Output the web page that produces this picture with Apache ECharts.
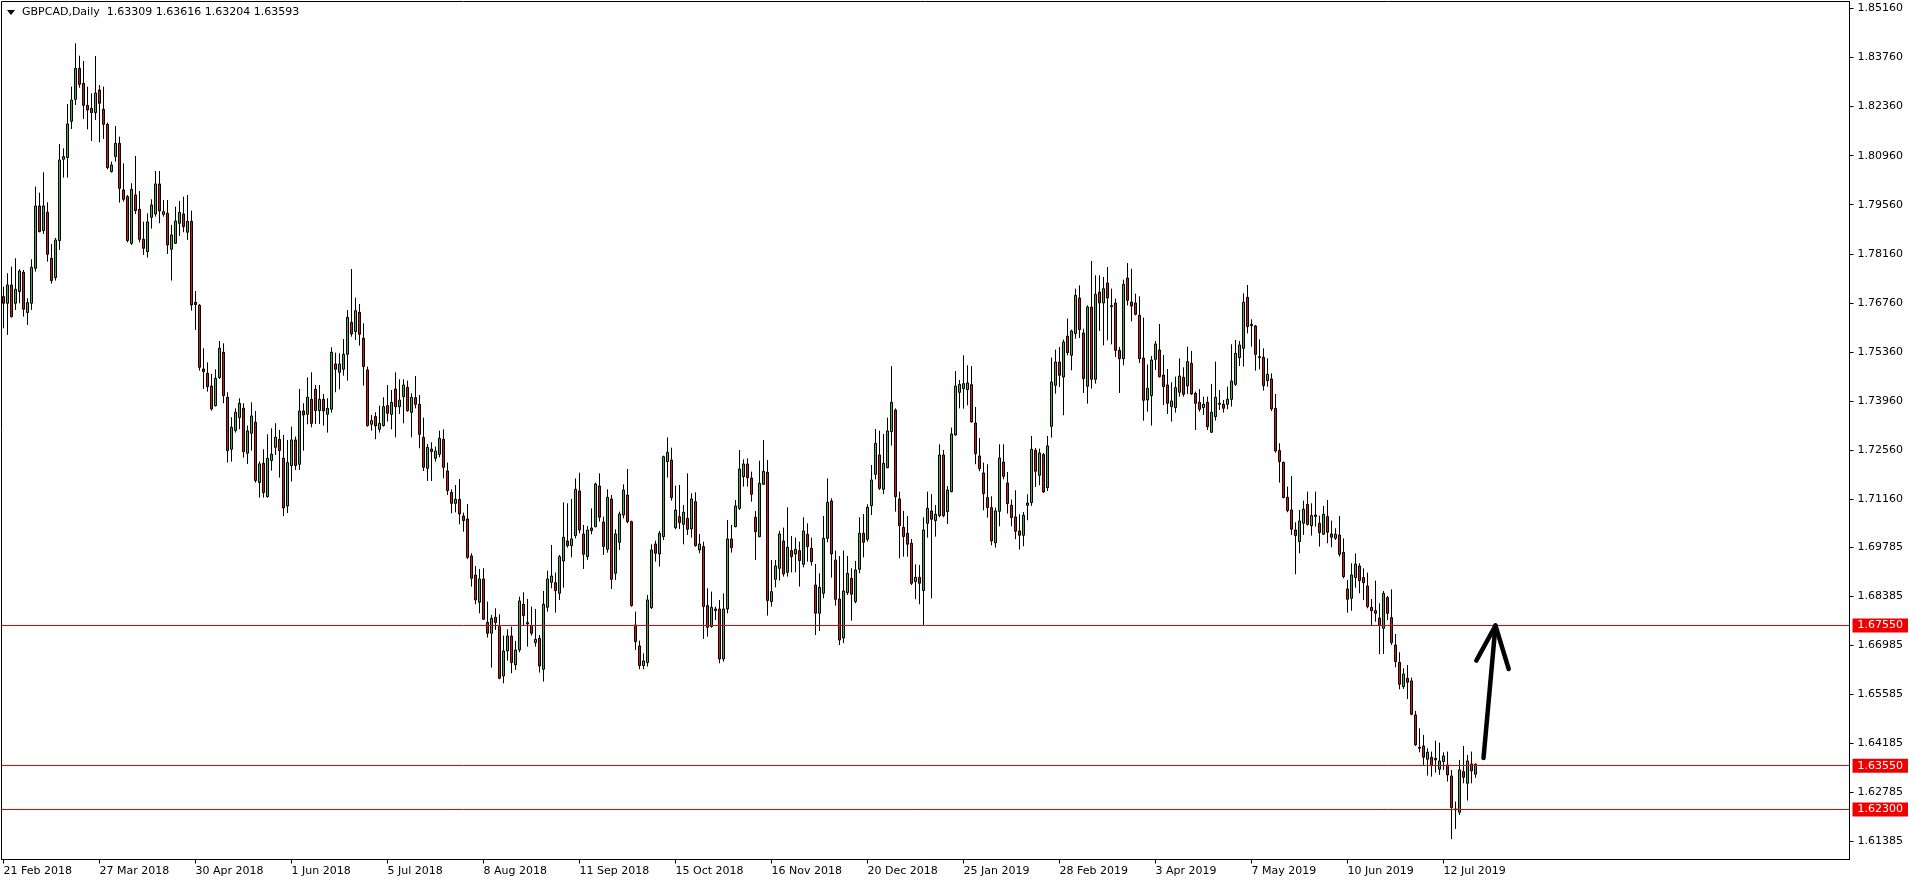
<!DOCTYPE html>
<html><head><meta charset="utf-8">
<script src="https://cdn.jsdelivr.net/npm/echarts@6/dist/echarts.min.js"></script>
<style>html,body{margin:0;padding:0;background:#fff;}#c{width:1916px;height:884px;}</style>
</head><body><div id="c"></div>
<script>
const symbolName = 'GBPCAD,Daily';
const tickLabels = ['21 Feb 2018','27 Mar 2018','30 Apr 2018','1 Jun 2018','5 Jul 2018','8 Aug 2018','11 Sep 2018','15 Oct 2018','16 Nov 2018','20 Dec 2018','25 Jan 2019','28 Feb 2019','3 Apr 2019','7 May 2019','10 Jun 2019','12 Jul 2019'];
const barsPerLabel = 24;
const totalSlots = 462;
const priceTicks = [1.85160,1.83760,1.82360,1.80960,1.79560,1.78160,1.76760,1.75360,1.73960,1.72560,1.71160,1.69785,1.68385,1.66985,1.65585,1.64185,1.62785,1.61385];
const levels = [1.67550, 1.63550, 1.62300];
const yMin = 1.60874, yMax = 1.85360;
const arrowShaft = [[370.0, 1.6377], [373.0, 1.6755]];
const arrowHead = [[368.2, 1.6655], [373.0, 1.6755], [376.3, 1.6631]];

const opens = [
1.76938,1.76748,1.77271,1.76748,1.77081,1.77633,1.76482,1.76748,1.77747,1.79525,
1.78822,1.79344,1.78032,1.77481,1.78536,1.80856,1.80904,1.81941,1.82568,1.83453,
1.83025,1.82397,1.82311,1.82188,1.82834,1.82283,1.81855,1.80505,1.80933,1.81313,
1.79982,1.79791,1.78460,1.79839,1.79430,1.78574,1.78222,1.79202,1.79297,1.80153,
1.79287,1.79316,1.78289,1.78460,1.79031,1.79297,1.78774,1.79088,1.76775,1.76690,
1.74873,1.74750,1.74388,1.73827,1.74626,1.75349,1.74065,1.72581,1.73114,1.73485,
1.73751,1.72467,1.73038,1.73352,1.71630,1.72182,1.71231,1.72258,1.72638,1.72867,
1.72325,1.70962,1.72115,1.72848,1.72153,1.73675,1.73580,1.74008,1.74293,1.73684,
1.74008,1.73580,1.73723,1.75016,1.74778,1.74864,1.75292,1.76205,1.75938,1.76490,
1.75748,1.74845,1.73295,1.73513,1.73152,1.73257,1.73827,1.73578,1.74301,1.73797,
1.74082,1.74349,1.73635,1.74054,1.73864,1.72922,1.72038,1.72589,1.72323,1.72437,
1.72865,1.71962,1.71353,1.71039,1.71153,1.70678,1.70592,1.69537,1.68994,1.68215,
1.68880,1.67644,1.67330,1.67787,1.67520,1.66113,1.66826,1.67254,1.66427,1.66855,
1.68158,1.67635,1.67549,1.67064,1.67188,1.66303,1.68072,1.68785,1.68776,1.68471,
1.69394,1.69964,1.69831,1.70117,1.71391,1.70164,1.69517,1.70335,1.70373,1.71534,
1.70507,1.69727,1.71163,1.69042,1.69926,1.70706,1.71277,1.70516,1.67568,1.66969,
1.66408,1.66493,1.68062,1.69879,1.69594,1.70088,1.72228,1.72275,1.70345,1.70659,
1.70440,1.70611,1.70307,1.71087,1.69708,1.69803,1.68120,1.67520,1.68024,1.68024,
1.66598,1.68024,1.70022,1.70373,1.70896,1.71800,1.72161,1.71762,1.70640,1.70088,
1.71581,1.71923,1.68234,1.68871,1.69185,1.69964,1.69070,1.69689,1.69594,1.69689,
1.69299,1.70155,1.69755,1.68709,1.67901,1.68471,1.70040,1.71106,1.69422,1.68310,
1.67195,1.68490,1.68899,1.68234,1.69156,1.70183,1.70012,1.70972,1.71866,1.72418,
1.71438,1.72057,1.73084,1.73702,1.71163,1.70354,1.70183,1.69898,1.68804,1.68928,
1.68547,1.70468,1.70820,1.70545,1.70687,1.72418,1.70801,1.71372,1.72989,1.74206,
1.74312,1.74283,1.74426,1.73332,1.72391,1.71906,1.71202,1.70916,1.69908,1.70812,
1.72219,1.71620,1.70983,1.70650,1.70251,1.70127,1.70983,1.71059,1.72552,1.71839,
1.72429,1.71487,1.73237,1.74407,1.75072,1.74644,1.75805,1.75263,1.75881,1.76898,
1.75900,1.74378,1.76641,1.74578,1.77069,1.76756,1.77326,1.76680,1.76756,1.75405,
1.75167,1.77469,1.76784,1.76756,1.76404,1.75186,1.73988,1.74112,1.75149,1.75415,
1.74702,1.74416,1.73798,1.73770,1.74207,1.74635,1.74388,1.75034,1.74179,1.73922,
1.73770,1.73922,1.73066,1.73513,1.73893,1.73865,1.73865,1.74007,1.74435,1.75196,
1.75462,1.76917,1.76147,1.76100,1.75225,1.75206,1.74540,1.74588,1.73751,1.72543,
1.72210,1.71211,1.70850,1.70279,1.69947,1.70470,1.71012,1.70403,1.70707,1.70470,
1.70156,1.70660,1.70165,1.70042,1.70135,1.69641,1.68595,1.68328,1.68918,1.69251,
1.68918,1.68680,1.68071,1.67976,1.67767,1.67472,1.68347,1.67777,1.66997,1.66502,
1.65808,1.66046,1.65970,1.65000,1.64077,1.64115,1.63735,1.63792,1.63763,1.63450,
1.63668,1.63573,1.63259,1.62318,1.62223,1.63383,1.63050,1.63602,1.63309];

const highs = [
1.77224,1.77604,1.77794,1.78032,1.77718,1.77699,1.76891,1.78004,1.80077,1.79905,
1.80486,1.79630,1.78441,1.78612,1.81294,1.81170,1.82435,1.82930,1.84166,1.83814,
1.83662,1.82930,1.82739,1.83805,1.82977,1.82930,1.81903,1.80790,1.81808,1.81503,
1.80742,1.79839,1.80172,1.80952,1.79953,1.79078,1.79316,1.79715,1.80524,1.80524,
1.79696,1.79696,1.78983,1.79506,1.79668,1.79791,1.79839,1.79392,1.77099,1.76728,
1.75463,1.75063,1.74731,1.74864,1.75672,1.75605,1.74208,1.73494,1.73751,1.74036,
1.73894,1.73257,1.73922,1.73675,1.72229,1.72581,1.73009,1.73180,1.73323,1.73133,
1.72990,1.72848,1.73228,1.72943,1.74303,1.73894,1.74635,1.74778,1.74417,1.74417,
1.74160,1.74036,1.75491,1.75339,1.75320,1.75729,1.76556,1.77726,1.76908,1.76728,
1.76176,1.74940,1.73561,1.73637,1.73827,1.74065,1.74417,1.74272,1.74777,1.74577,
1.74577,1.74539,1.74177,1.74672,1.74130,1.73483,1.72732,1.72779,1.72656,1.73112,
1.73150,1.72199,1.71439,1.71562,1.71733,1.70773,1.71020,1.69613,1.69251,1.69166,
1.69185,1.68234,1.67853,1.68043,1.67872,1.67264,1.67444,1.67520,1.67111,1.68376,
1.68500,1.68310,1.68091,1.68024,1.67283,1.68538,1.69118,1.69850,1.69061,1.69565,
1.71068,1.71039,1.71163,1.71752,1.71914,1.70421,1.70392,1.70896,1.71629,1.71895,
1.70659,1.71439,1.71277,1.70297,1.70801,1.71581,1.72019,1.70545,1.67948,1.67121,
1.66760,1.68424,1.69869,1.69974,1.70250,1.72399,1.72920,1.72627,1.71543,1.71562,
1.70992,1.71895,1.71324,1.71353,1.70164,1.69945,1.68614,1.68519,1.68091,1.68281,
1.68471,1.70564,1.70421,1.71134,1.72561,1.72294,1.72323,1.71943,1.70820,1.72256,
1.72846,1.72275,1.69422,1.69422,1.70250,1.70345,1.70925,1.70107,1.70060,1.69945,
1.70640,1.70468,1.70060,1.69308,1.69042,1.70678,1.71752,1.71182,1.69689,1.69536,
1.69689,1.69536,1.69185,1.69394,1.70640,1.70735,1.71011,1.72133,1.73160,1.73112,
1.73017,1.73483,1.74957,1.73749,1.71372,1.70820,1.70678,1.70021,1.69299,1.69280,
1.70640,1.71372,1.71305,1.70991,1.72722,1.72561,1.71534,1.73198,1.74815,1.74558,
1.75263,1.74977,1.74958,1.73788,1.72904,1.72200,1.72153,1.71240,1.70916,1.72723,
1.72723,1.71934,1.71145,1.71411,1.70726,1.70793,1.71297,1.72961,1.72619,1.72600,
1.72476,1.72961,1.75196,1.75424,1.75500,1.75710,1.76309,1.75995,1.77165,1.77260,
1.76023,1.76689,1.77954,1.77545,1.77545,1.77497,1.77783,1.77165,1.76879,1.75500,
1.77421,1.77897,1.77735,1.77022,1.76946,1.76337,1.75000,1.75244,1.75672,1.76157,
1.75272,1.74873,1.74492,1.74654,1.75177,1.74920,1.75510,1.75386,1.74226,1.74302,
1.74083,1.74083,1.74445,1.75082,1.74274,1.73988,1.74369,1.75577,1.75700,1.75672,
1.77032,1.77269,1.76290,1.76128,1.75719,1.75462,1.75177,1.74749,1.74160,1.72752,
1.72229,1.71516,1.71820,1.70498,1.70850,1.71116,1.71373,1.71040,1.71373,1.70688,
1.70964,1.71135,1.70546,1.70327,1.70677,1.70040,1.68851,1.69327,1.69612,1.69327,
1.69184,1.69061,1.68309,1.68832,1.68186,1.68537,1.68395,1.68585,1.67311,1.66788,
1.66331,1.66426,1.66065,1.65114,1.64619,1.64429,1.64049,1.63954,1.64267,1.64210,
1.63935,1.63954,1.63431,1.62527,1.63716,1.64115,1.63859,1.63954,1.63616];

const lows = [
1.76035,1.75845,1.76340,1.76558,1.76748,1.76368,1.76130,1.76558,1.77652,1.78774,
1.78726,1.77937,1.77309,1.77395,1.78270,1.80334,1.80334,1.81722,1.82407,1.82901,
1.82007,1.81712,1.81380,1.81979,1.81342,1.81437,1.80571,1.80480,1.80790,1.79620,
1.79649,1.78489,1.78412,1.79297,1.78489,1.78127,1.78051,1.78879,1.79221,1.79031,
1.79221,1.78156,1.77395,1.78441,1.78669,1.78774,1.78555,1.76539,1.75986,1.74826,
1.74303,1.74227,1.73684,1.73800,1.74588,1.73894,1.72201,1.72229,1.73057,1.73152,
1.72344,1.72163,1.72543,1.71630,1.71202,1.71202,1.71200,1.71973,1.72420,1.71773,
1.70677,1.70762,1.71659,1.71992,1.71992,1.72543,1.73295,1.73209,1.73304,1.73304,
1.73257,1.73057,1.73627,1.74208,1.74293,1.74683,1.74540,1.75796,1.75701,1.75539,
1.74398,1.73228,1.73114,1.72867,1.73057,1.73228,1.73371,1.73150,1.72922,1.73588,
1.73321,1.73654,1.72922,1.73749,1.72608,1.71962,1.71676,1.71676,1.72228,1.72351,
1.71752,1.71277,1.70754,1.70782,1.70440,1.70231,1.69451,1.68662,1.68158,1.67901,
1.67711,1.67207,1.66351,1.67425,1.66018,1.65904,1.66550,1.66189,1.66284,1.66788,
1.67568,1.66950,1.67264,1.66950,1.66208,1.65951,1.67948,1.68614,1.67920,1.68281,
1.68633,1.69774,1.69498,1.70041,1.70183,1.69166,1.69422,1.70155,1.70354,1.70516,
1.69565,1.69632,1.68595,1.68852,1.69708,1.70611,1.70468,1.68091,1.66855,1.66303,
1.66303,1.66379,1.68024,1.69375,1.69232,1.69993,1.71771,1.71115,1.70297,1.70307,
1.69869,1.70136,1.70060,1.69803,1.69613,1.67169,1.67235,1.67492,1.67711,1.66474,
1.66522,1.67901,1.69632,1.70354,1.70849,1.71515,1.71515,1.71087,1.69422,1.70069,
1.71562,1.67834,1.68091,1.68643,1.68833,1.68947,1.68947,1.69070,1.69070,1.68662,
1.69213,1.69375,1.69261,1.67283,1.67397,1.68329,1.69926,1.68918,1.68119,1.66995,
1.67052,1.68424,1.67692,1.68186,1.69042,1.69498,1.69945,1.70706,1.71724,1.71419,
1.71305,1.72038,1.72684,1.70801,1.69470,1.69517,1.69517,1.68709,1.68300,1.68158,
1.67568,1.70060,1.68329,1.70088,1.70640,1.70640,1.70449,1.71353,1.72970,1.73749,
1.73741,1.73836,1.73342,1.72153,1.71953,1.70840,1.70631,1.69842,1.69775,1.70384,
1.71725,1.70745,1.70384,1.70013,1.69718,1.69813,1.70555,1.70964,1.71506,1.71554,
1.71335,1.71392,1.72914,1.74169,1.74359,1.73551,1.75263,1.74835,1.75738,1.75757,
1.74188,1.73884,1.74312,1.74454,1.75957,1.75548,1.75690,1.75576,1.75215,1.74188,
1.74977,1.76689,1.76233,1.76404,1.75044,1.73399,1.73656,1.73256,1.74844,1.74626,
1.73846,1.73589,1.73370,1.73627,1.74083,1.74083,1.74160,1.74131,1.73132,1.73656,
1.73560,1.73132,1.73056,1.73399,1.73703,1.73627,1.73722,1.73798,1.74388,1.74958,
1.74939,1.75890,1.75510,1.74825,1.74863,1.74255,1.74369,1.73675,1.72486,1.71630,
1.71183,1.70784,1.70137,1.69015,1.69614,1.70137,1.70403,1.70118,1.70375,1.69804,
1.70137,1.69899,1.69785,1.69994,1.69517,1.68899,1.67919,1.67976,1.68633,1.68471,
1.68281,1.68043,1.67567,1.67663,1.66731,1.66740,1.67710,1.66997,1.66360,1.65732,
1.65742,1.65456,1.64990,1.64115,1.63935,1.63545,1.63269,1.63240,1.63355,1.63288,
1.63431,1.63098,1.61453,1.61747,1.62147,1.63050,1.62556,1.63050,1.63204];

const closes = [
1.76748,1.77271,1.76368,1.77148,1.77671,1.76577,1.76767,1.77775,1.79525,1.78793,
1.79525,1.78146,1.77395,1.78555,1.80837,1.80933,1.81865,1.82549,1.83453,1.82996,
1.82397,1.82264,1.82188,1.82749,1.82454,1.81855,1.80619,1.80695,1.81313,1.80029,
1.79715,1.78536,1.80001,1.79392,1.78574,1.78317,1.79069,1.79554,1.80153,1.79382,
1.79363,1.78412,1.78698,1.79097,1.79344,1.78936,1.79088,1.76701,1.76709,1.74921,
1.74797,1.74369,1.73732,1.74607,1.75463,1.74112,1.72543,1.73209,1.73637,1.73894,
1.72515,1.73104,1.73532,1.71687,1.72163,1.71345,1.72325,1.72439,1.72924,1.72543,
1.70905,1.72201,1.72848,1.72115,1.73675,1.73561,1.74065,1.73323,1.73684,1.74008,
1.73675,1.73751,1.75349,1.74864,1.75016,1.75292,1.76347,1.75872,1.76537,1.75862,
1.74940,1.73257,1.73399,1.73247,1.73323,1.73799,1.73608,1.73921,1.73797,1.73987,
1.74415,1.73683,1.74063,1.73864,1.73008,1.72066,1.72637,1.72513,1.72532,1.72894,
1.72066,1.71400,1.71039,1.71153,1.70735,1.70545,1.69498,1.68899,1.68281,1.68880,
1.67730,1.67330,1.67758,1.67635,1.66046,1.66826,1.67254,1.66493,1.66855,1.68253,
1.67834,1.67596,1.67330,1.67159,1.66398,1.68158,1.68880,1.68966,1.68547,1.69517,
1.70069,1.69831,1.70022,1.71439,1.70278,1.69584,1.70278,1.70259,1.71591,1.70640,
1.69803,1.71210,1.68871,1.70164,1.70735,1.71419,1.70516,1.68120,1.67092,1.66408,
1.66541,1.68281,1.69708,1.69613,1.70183,1.72370,1.72494,1.71201,1.70849,1.70488,
1.70782,1.70297,1.71163,1.69831,1.69879,1.68091,1.67501,1.68072,1.67977,1.66598,
1.68024,1.70022,1.69774,1.70963,1.72019,1.72161,1.71771,1.71296,1.70231,1.71610,
1.71952,1.68262,1.68519,1.69251,1.70164,1.69023,1.69784,1.69517,1.69727,1.69403,
1.70250,1.69803,1.69375,1.67901,1.68643,1.70040,1.71068,1.69594,1.68300,1.67138,
1.68538,1.69042,1.68443,1.69137,1.70183,1.69926,1.70925,1.71705,1.72751,1.71467,
1.72180,1.73103,1.73921,1.71229,1.70402,1.70088,1.69869,1.68757,1.68928,1.68757,
1.70278,1.70896,1.70583,1.70725,1.72418,1.70687,1.71419,1.73017,1.74387,1.74434,
1.74454,1.74473,1.73361,1.72457,1.72029,1.71316,1.70916,1.69965,1.70821,1.72333,
1.71810,1.71031,1.70631,1.70241,1.70127,1.70698,1.71050,1.72581,1.71953,1.72476,
1.71363,1.72676,1.74502,1.75072,1.74692,1.75643,1.75339,1.75957,1.76974,1.75995,
1.74597,1.76641,1.74578,1.77003,1.76756,1.77165,1.76898,1.76651,1.75405,1.75167,
1.77288,1.76832,1.76670,1.76432,1.75167,1.73979,1.74321,1.75130,1.75586,1.74654,
1.74369,1.73893,1.73960,1.74340,1.74673,1.74150,1.75082,1.74160,1.73893,1.73722,
1.73865,1.73228,1.73637,1.74064,1.73865,1.73751,1.74007,1.74530,1.75320,1.75558,
1.76775,1.76081,1.76109,1.75291,1.75196,1.74397,1.74721,1.73732,1.72533,1.72229,
1.71202,1.70831,1.70299,1.70118,1.70536,1.70869,1.70441,1.70688,1.70660,1.70203,
1.70726,1.70213,1.70070,1.70156,1.69584,1.68946,1.68300,1.68994,1.69308,1.68832,
1.68775,1.68090,1.67976,1.67900,1.67548,1.68471,1.67900,1.67063,1.66521,1.65875,
1.66169,1.65932,1.65019,1.64144,1.64049,1.63792,1.63935,1.63554,1.63716,1.63687,
1.63830,1.63288,1.62356,1.62289,1.63431,1.63221,1.63687,1.63402,1.63593];

const FONT = 'DejaVu Sans';
const BULL = '#36b536', BEAR = '#dd1111', LEVEL = '#ee0000';
const chart = echarts.init(document.getElementById('c'), null, {renderer: 'canvas'});
const candleData = opens.map((o, i) => [o, closes[i], lows[i], highs[i]]);
const categories = Array.from({length: totalSlots}, (_, i) => String(i));
const isLabelIdx = (idx) => idx % barsPerLabel === 0 && idx / barsPerLabel < tickLabels.length;
const last = opens.length - 1;
const fmt = (v) => Number(v).toFixed(5);

const lineLabel = (bg) => ({
  show: true, position: 'end', distance: 3, formatter: (p) => fmt(p.value),
  backgroundColor: bg, color: '#fff', padding: [1, 5, 1, 5], lineHeight: 12,
  fontFamily: FONT, fontSize: 11
});

const markData = [
  {yAxis: closes[last], lineStyle: {opacity: 0}, label: lineLabel('#000')}
].concat(levels.map(v => ({
  yAxis: v, lineStyle: {color: LEVEL, width: 1, type: 'solid'}, label: lineLabel(LEVEL)
})));

const option = {
  animation: false,
  backgroundColor: '#fff',
  grid: {left: 1.5, top: 1.5, width: 1848, height: 858, show: true, borderColor: '#000', borderWidth: 1, backgroundColor: 'transparent'},
  xAxis: {
    type: 'category', data: categories, boundaryGap: true,
    axisLine: {show: true, lineStyle: {color: '#000', width: 1}},
    axisTick: {show: true, alignWithLabel: true, interval: (i) => isLabelIdx(i), length: 4, lineStyle: {color: '#000'}},
    axisLabel: {show: true, interval: (i) => isLabelIdx(i),
      formatter: (v, i) => (isLabelIdx(i) ? tickLabels[i / barsPerLabel] : ''),
      align: 'left', margin: 6, color: '#000', fontFamily: FONT, fontSize: 11},
    splitLine: {show: false}
  },
  yAxis: {
    type: 'value', position: 'right', min: yMin, max: yMax,
    axisLine: {show: true, lineStyle: {color: '#000'}},
    axisTick: {show: true, customValues: priceTicks, length: 4, lineStyle: {color: '#000'}},
    axisLabel: {customValues: priceTicks, formatter: fmt, margin: 8, color: '#000', fontFamily: FONT, fontSize: 11},
    splitLine: {show: false}
  },
  series: [{
    type: 'candlestick', data: candleData, barWidth: 2,
    itemStyle: {color: BULL, color0: BEAR, borderColor: '#000', borderColor0: '#000', borderColorDoji: '#000', borderWidth: 1},
    markLine: {symbol: 'none', silent: true, animation: false, precision: 5, data: markData}
  }]
};
chart.setOption(option);

const toPx = ([xf, y]) => {
  const i0 = Math.floor(xf);
  const p0 = chart.convertToPixel({gridIndex: 0}, [i0, y]);
  const p1 = chart.convertToPixel({gridIndex: 0}, [i0 + 1, y]);
  return [p0[0] + (xf - i0) * (p1[0] - p0[0]), p0[1]];
};

const titleText = symbolName + '  ' + [opens[last], highs[last], lows[last], closes[last]].map(fmt).join(' ');
chart.setOption({
  graphic: [
    {type: 'polygon', shape: {points: [[7, 10], [15, 10], [11, 15]]}, style: {fill: '#000'}},
    {type: 'text', x: 22, y: 12.5, style: {text: titleText, fill: '#000', fontFamily: FONT, fontSize: 11, verticalAlign: 'middle'}},
    {type: 'polyline', shape: {points: arrowShaft.map(toPx)}, style: {stroke: '#000', lineWidth: 4.5, lineCap: 'round', lineJoin: 'round', fill: null}, z: 100},
    {type: 'polyline', shape: {points: arrowHead.map(toPx)}, style: {stroke: '#000', lineWidth: 4.5, lineCap: 'round', lineJoin: 'round', fill: null}, z: 100}
  ]
});
</script>
</body></html>
